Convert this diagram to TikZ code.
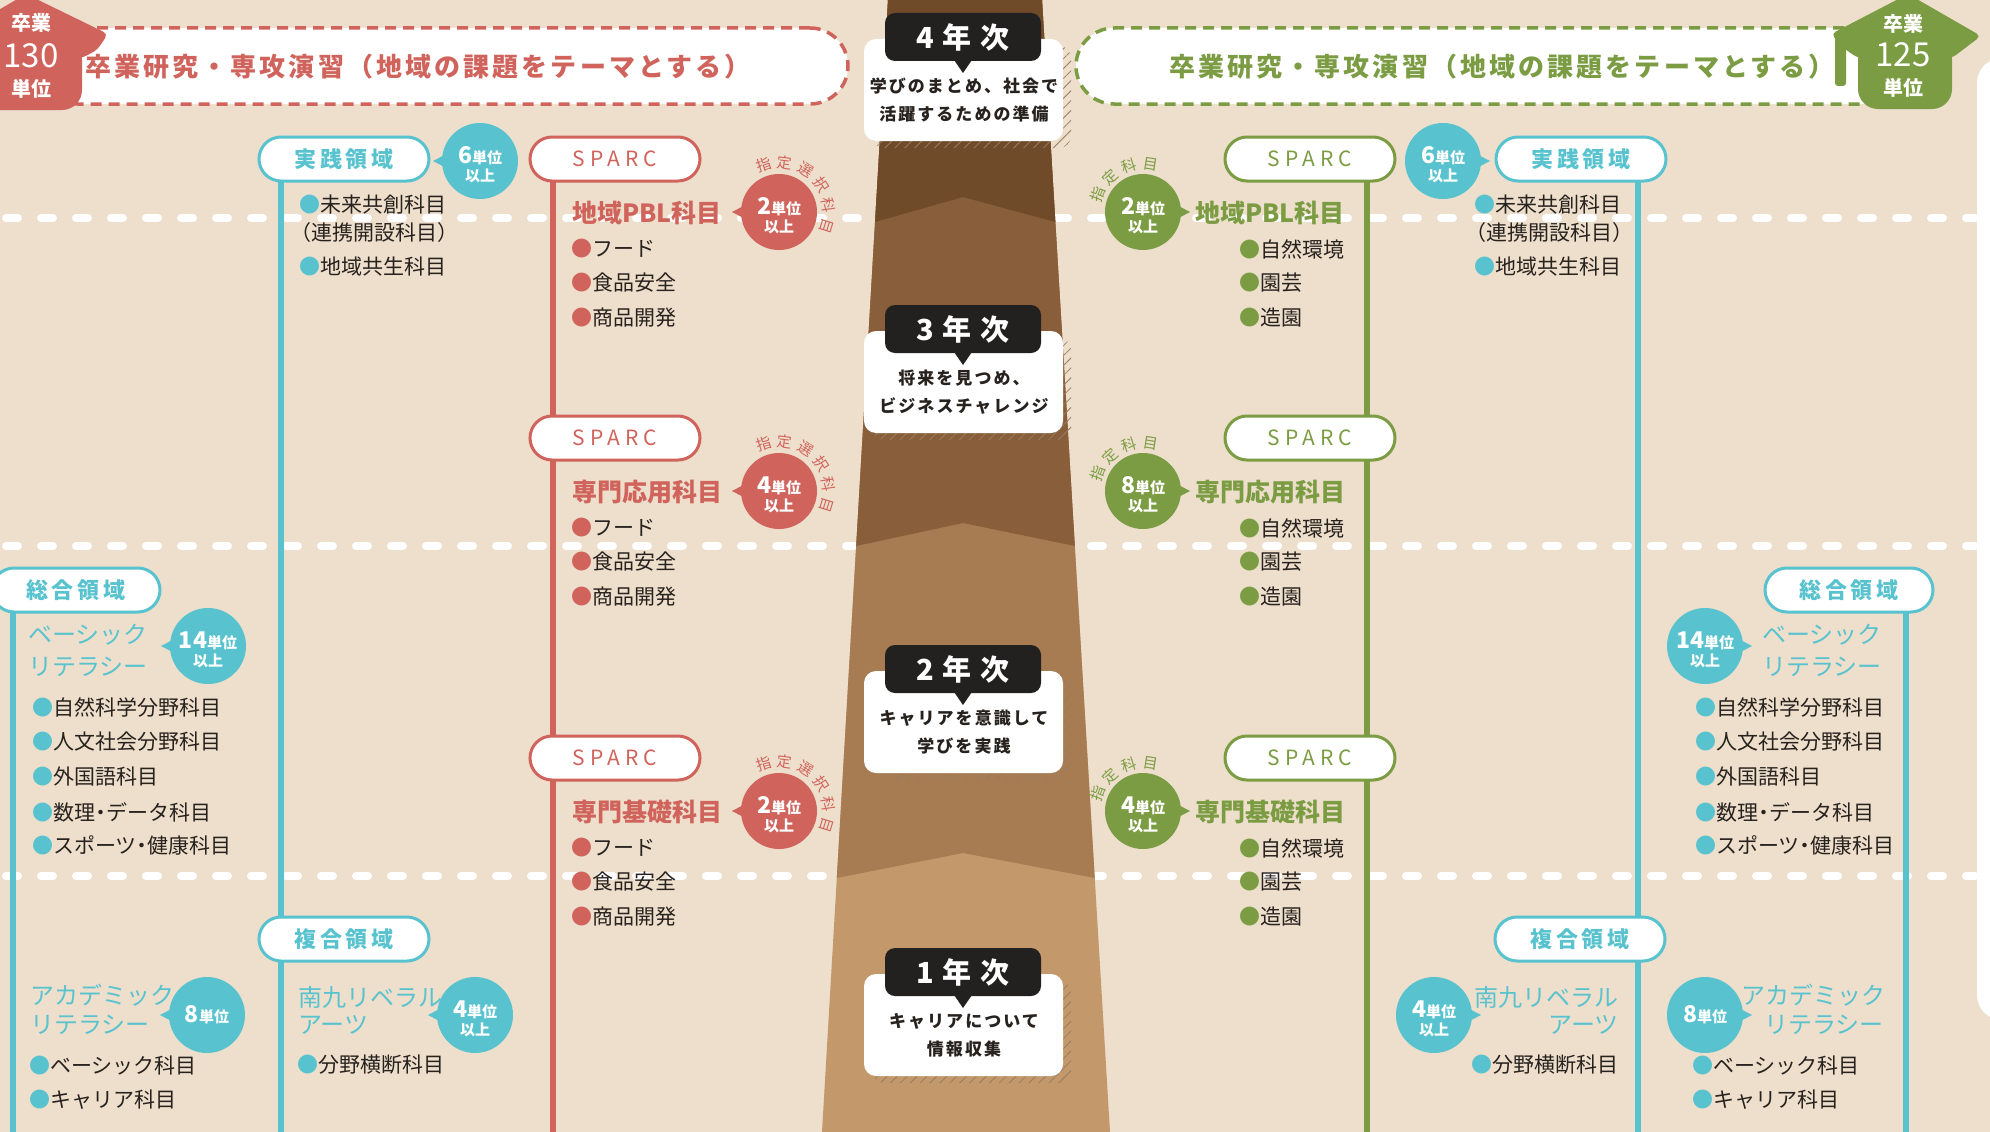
\documentclass[tikz,border=0pt]{standalone}
\usepackage{fontspec}
\setmainfont{Noto Sans CJK JP}
\usetikzlibrary{patterns.meta}
\definecolor{bg}{RGB}{237,223,204}
\definecolor{cblue}{RGB}{88,195,207}
\definecolor{cred}{RGB}{208,99,91}
\definecolor{cgreen}{RGB}{123,156,66}
\definecolor{ink}{RGB}{40,34,30}
\definecolor{brA}{RGB}{112,75,42}
\definecolor{brB}{RGB}{137,94,59}
\definecolor{brC}{RGB}{167,124,83}
\definecolor{brD}{RGB}{195,153,108}
\definecolor{yblack}{RGB}{35,32,32}
\definecolor{hatch}{RGB}{150,125,95}
\newcommand{\myfs}[1]{\fontsize{#1}{#1}\selectfont}
\newcommand{\myls}[1]{\addfontfeatures{LetterSpace=#1}}
\newcommand{\bul}[1]{{\color{#1}●}}
\newcommand{\ndot}{\kern-5pt・\kern-5pt}
\newcommand{\bubble}[5]{%
  \fill[#4] ({#2+(#5)*26},{#3-11}) -- ({#2+(#5)*47},{#3}) -- ({#2+(#5)*26},{#3+11}) -- cycle;
  \node[circle, fill=#4, minimum size=76pt, inner sep=0pt] (#1) at (#2,#3) {};
}
\newcommand{\bubtwo}[4]{%
  \node[bt] (#1a) at (#2,{#3-5}) {{\myfs{23}#4}単位};
  \node[bt] (#1b) at (#2,{#3+15}) {以上};
}
\newcommand{\yearbox}[5]{%
  \fill[pattern={Lines[angle=45,distance=7pt,line width=0.8pt]}, pattern color=hatch, rounded corners=12pt] (872,{#2+33}) rectangle (1071,{#2+135});
  \fill[white, rounded corners=12pt] (864,{#2+26}) rectangle (1063,{#2+128});
  \fill[yblack] (952,{#2+44}) -- (974,{#2+44}) -- (963,{#2+60}) -- cycle;
  \node[yblk] (#1) at (963,{#2+24}) {#3};
  \node[ydesc] (#1a) at (964,{#2+73}) {#4};
  \node[ydesc] (#1b) at (964,{#2+101}) {#5};
}
\tikzset{
  bgdash/.style={white, line width=8pt, dash pattern=on 12pt off 23pt, line cap=round},
  hdrbox/.style={draw=#1, fill=white, line width=3.5pt, dash pattern=on 11pt off 7pt, rounded corners=38pt, minimum height=76pt, inner sep=0pt},
  hdrtext/.style={text=#1, inner sep=0pt, font={\myfs{26}\bfseries\myls{12}}},
  lbox/.style={draw=#1, fill=white, line width=3pt, rounded corners=22pt, minimum width=170pt, minimum height=44pt, inner sep=0pt, text=#1, font={\myfs{22}\bfseries\myls{18}}},
  sbox/.style={lbox=#1, font={\myfs{21}\myls{24}}},
  vline/.style={draw=#1, line width=5.5pt},
  ttl/.style={text=#1, inner sep=0pt, anchor=west, font={\myfs{25}\bfseries}},
  ttlr/.style={text=#1, inner sep=0pt, font={\myfs{24}}},
  item/.style={text=ink, inner sep=0pt, anchor=west, font={\myfs{21}}},
  bt/.style={text=white, inner sep=0pt, font={\myfs{15}\bfseries}},
  arcc/.style={text=#1, inner sep=0pt, font={\myfs{15}}},
  yblk/.style={fill=yblack, rounded corners=10pt, minimum width=156pt, minimum height=48pt, inner sep=0pt, text=white, font={\myfs{29}\bfseries\myls{30}}},
  ydesc/.style={text=ink, inner sep=0pt, font={\myfs{17}\bfseries\myls{12}}},
  badge/.style={text=white, inner sep=0pt, font={\myfs{20}\bfseries}},
  badgenum/.style={text=white, inner sep=0pt, font={\myfs{33}}},
}
\begin{document}
\begin{tikzpicture}[x=1pt,y=-1pt]
\useasboundingbox (0,0) rectangle (1990,1132);
\clip (0,0) rectangle (1990,1132);
\fill[bg] (0,0) rectangle (1990,1132);
% right white panel
\fill[white, rounded corners=25pt] (1977,58) rectangle (2040,1020);
% horizontal dashed lines
\foreach \yy in {218,546,876} \draw[bgdash] (6,\yy) -- (1975,\yy);
% tower
\fill[brD] (888,0) -- (1042,0) -- (1110,1132) -- (822,1132) -- cycle;
\fill[brC] (888,0) -- (1042,0) -- (1094.7,878) -- (963,853) -- (836.8,878) -- cycle;
\fill[brB] (888,0) -- (1042,0) -- (1074.8,546) -- (963,523) -- (856.2,546) -- cycle;
\fill[brA] (888,0) -- (1042,0) -- (1055.3,222) -- (963,197) -- (875.1,222) -- cycle;
% year boxes
\yearbox{y4}{13}{4年次}{学びのまとめ、社会で}{活躍するための準備}
\yearbox{y3}{305}{3年次}{将来を見つめ、}{ビジネスチャレンジ}
\yearbox{y2}{645}{2年次}{キャリアを意識して}{学びを実践}
\yearbox{y1}{948}{1年次}{キャリアについて}{情報収集}
% header boxes
\node[hdrbox=cred, minimum width=808pt] (hdrL) at (444,66) {};
\node[hdrtext=cred] (hdrLt) at (418,67) {卒業研究・専攻演習（地域の課題をテーマとする）};
\node[hdrbox=cgreen, minimum width=824pt] (hdrR) at (1488,66) {};
\node[hdrtext=cgreen] (hdrRt) at (1502,67) {卒業研究・専攻演習（地域の課題をテーマとする）};
% badges
\fill[cred, rounded corners=5pt] (26,-6) -- (108,34) -- (97,50) -- (82,58) -- (-20,58) -- (-46,36) -- cycle;
\fill[cred, rounded corners=20pt] (-20,40) rectangle (82,110);
\node[badge] (bLa) at (31,23) {卒業};
\node[badgenum] (bLb) at (31,56) {130};
\node[badge] (bLc) at (31,89) {単位};
\fill[cgreen, rounded corners=5pt] (1908,-6) -- (1981,36) -- (1952,58) -- (1858,58) -- (1846,50) -- (1831,34) -- cycle;
\fill[cgreen, rounded corners=3pt] (1835,34) rectangle (1846,86);
\fill[cgreen, rounded corners=20pt] (1858,40) rectangle (1952,109);
\node[badge] (bRa) at (1903,24) {卒業};
\node[badgenum] (bRb) at (1903,55) {125};
\node[badge] (bRc) at (1903,88) {単位};
% vertical line ends and starts
\coordinate (eA) at (13,1132);
\coordinate (eB) at (281,1132);
\coordinate (eC) at (553,1132);
\coordinate (eD) at (1367,1132);
\coordinate (eE) at (1638,1132);
\coordinate (eF) at (1906,1132);
\coordinate (sA) at (13,590);
\coordinate (sB) at (281,159);
\coordinate (sC) at (553,159);
\coordinate (sD) at (1367,159);
\coordinate (sE) at (1638,159);
\coordinate (sF) at (1906,590);
\draw[vline=cblue] (sA) -- (eA);
\draw[vline=cblue] (sB) -- (eB);
\draw[vline=cred] (sC) -- (eC);
\draw[vline=cgreen] (sD) -- (eD);
\draw[vline=cblue] (sE) -- (eE);
\draw[vline=cblue] (sF) -- (eF);
% label boxes
\node[lbox=cblue] (jisL) at (344,159) {実践領域};
\node[lbox=cblue] (jisR) at (1581,159) {実践領域};
\node[lbox=cblue, minimum width=168pt] (zgL) at (76,590) {総合領域};
\node[lbox=cblue, minimum width=168pt] (zgR) at (1849,590) {総合領域};
\node[lbox=cblue] (fkL) at (344,939) {複合領域};
\node[lbox=cblue] (fkR) at (1580,939) {複合領域};
\node[sbox=cred] (spL1) at (615,159) {SPARC};
\node[sbox=cred] (spL2) at (615,438) {SPARC};
\node[sbox=cred] (spL3) at (615,758) {SPARC};
\node[sbox=cgreen] (spR1) at (1310,159) {SPARC};
\node[sbox=cgreen] (spR2) at (1310,438) {SPARC};
\node[sbox=cgreen] (spR3) at (1310,758) {SPARC};
% practice area bubbles and items
\bubble{b6L}{480}{161}{cblue}{-1}\bubtwo{b6Lt}{480}{161}{6}
\bubble{b6R}{1443}{161}{cblue}{1}\bubtwo{b6Rt}{1443}{161}{6}
\node[item] (jL1) at (299,205) {\bul{cblue}未来共創科目};
\node[item] (jL2) at (290,233) {（連携開設科目）};
\node[item] (jL3) at (299,267) {\bul{cblue}地域共生科目};
\node[item] (jR1) at (1474,205) {\bul{cblue}未来共創科目};
\node[item] (jR2) at (1465,233) {（連携開設科目）};
\node[item] (jR3) at (1474,267) {\bul{cblue}地域共生科目};
% SPARC red (left)
\foreach \S/\ttlt/\num [count=\k] in {159/地域PBL科目/2, 438/専門応用科目/4, 758/専門基礎科目/2} {
  \node[ttl=cred] (rt\k) at (572,\S+54) {\ttlt};
  \bubble{rb\k}{779}{\S+53}{cred}{-1}
  \bubtwo{rbt\k}{779}{\S+53}{\num}
  \node[item] (ri\k a) at (571,\S+90) {\bul{cred}フード};
  \node[item] (ri\k b) at (571,\S+124) {\bul{cred}食品安全};
  \node[item] (ri\k c) at (571,\S+159) {\bul{cred}商品開発};
  \foreach \c [count=\i from 0] in {指,定,選,択,科,目}
    \node[arcc=cred, rotate={108-25*\i-90}] (ra\k\i) at ({779+50*cos(108-25*\i)},{\S+53-50*sin(108-25*\i)}) {\c};
}
% SPARC green (right)
\foreach \S/\ttlt/\num [count=\k] in {159/地域PBL科目/2, 438/専門応用科目/8, 758/専門基礎科目/4} {
  \node[ttl=cgreen] (gt\k) at (1195,\S+54) {\ttlt};
  \bubble{gb\k}{1143}{\S+53}{cgreen}{1}
  \bubtwo{gbt\k}{1143}{\S+53}{\num}
  \node[item] (gi\k a) at (1239,\S+90) {\bul{cgreen}自然環境};
  \node[item] (gi\k b) at (1239,\S+124) {\bul{cgreen}園芸};
  \node[item] (gi\k c) at (1239,\S+159) {\bul{cgreen}造園};
  \foreach \c [count=\i from 0] in {指,定,科,目}
    \node[arcc=cgreen, rotate={159-26*\i-90}] (ga\k\i) at ({1143+48*cos(159-26*\i)},{\S+53-48*sin(159-26*\i)}) {\c};
}
% general area
\node[ttlr=cblue, anchor=west] (blL1) at (28,635) {ベーシック};
\node[ttlr=cblue, anchor=west] (blL2) at (28,667) {リテラシー};
\bubble{b14L}{208}{646}{cblue}{-1}\bubtwo{b14Lt}{208}{646}{14}
\node[ttlr=cblue, anchor=east] (blR1) at (1882,635) {ベーシック};
\node[ttlr=cblue, anchor=east] (blR2) at (1882,667) {リテラシー};
\bubble{b14R}{1705}{646}{cblue}{1}\bubtwo{b14Rt}{1705}{646}{14}
\foreach \t/\yy [count=\k] in {自然科学分野科目/707, 人文社会分野科目/742, 外国語科目/777, 数理\ndot データ科目/812, スポーツ\ndot 健康科目/845} {
  \node[item] (gaL\k) at (32,\yy) {\bul{cblue}\t};
  \node[item] (gaR\k) at (1695,\yy) {\bul{cblue}\t};
}
% composite area
\node[ttlr=cblue, anchor=west] (acL1) at (30,995) {アカデミック};
\node[ttlr=cblue, anchor=west] (acL2) at (30,1025) {リテラシー};
\bubble{b8L}{207}{1015}{cblue}{-1}
\node[bt] (b8Lt) at (207,1015) {{\myfs{23}8}単位};
\node[item] (acLi1) at (29,1065) {\bul{cblue}ベーシック科目};
\node[item] (acLi2) at (29,1100) {\bul{cblue}キャリア科目};
\node[ttlr=cblue, anchor=west] (nkL1) at (298,997) {南九リベラル};
\node[ttlr=cblue, anchor=west] (nkL2) at (298,1025) {アーツ};
\bubble{b4L}{475}{1015}{cblue}{-1}\bubtwo{b4Lt}{475}{1015}{4}
\node[item] (nkLi) at (297,1065) {\bul{cblue}分野横断科目};
\node[ttlr=cblue, anchor=east] (nkR1) at (1619,997) {南九リベラル};
\node[ttlr=cblue, anchor=east] (nkR2) at (1619,1025) {アーツ};
\bubble{b4R}{1434}{1015}{cblue}{1}\bubtwo{b4Rt}{1434}{1015}{4}
\node[item] (nkRi) at (1471,1065) {\bul{cblue}分野横断科目};
\node[ttlr=cblue, anchor=east] (acR1) at (1886,995) {アカデミック};
\node[ttlr=cblue, anchor=east] (acR2) at (1884,1025) {リテラシー};
\bubble{b8R}{1705}{1015}{cblue}{1}
\node[bt] (b8Rt) at (1705,1015) {{\myfs{23}8}単位};
\node[item] (acRi1) at (1692,1065) {\bul{cblue}ベーシック科目};
\node[item] (acRi2) at (1692,1100) {\bul{cblue}キャリア科目};
\end{tikzpicture}
\end{document}
